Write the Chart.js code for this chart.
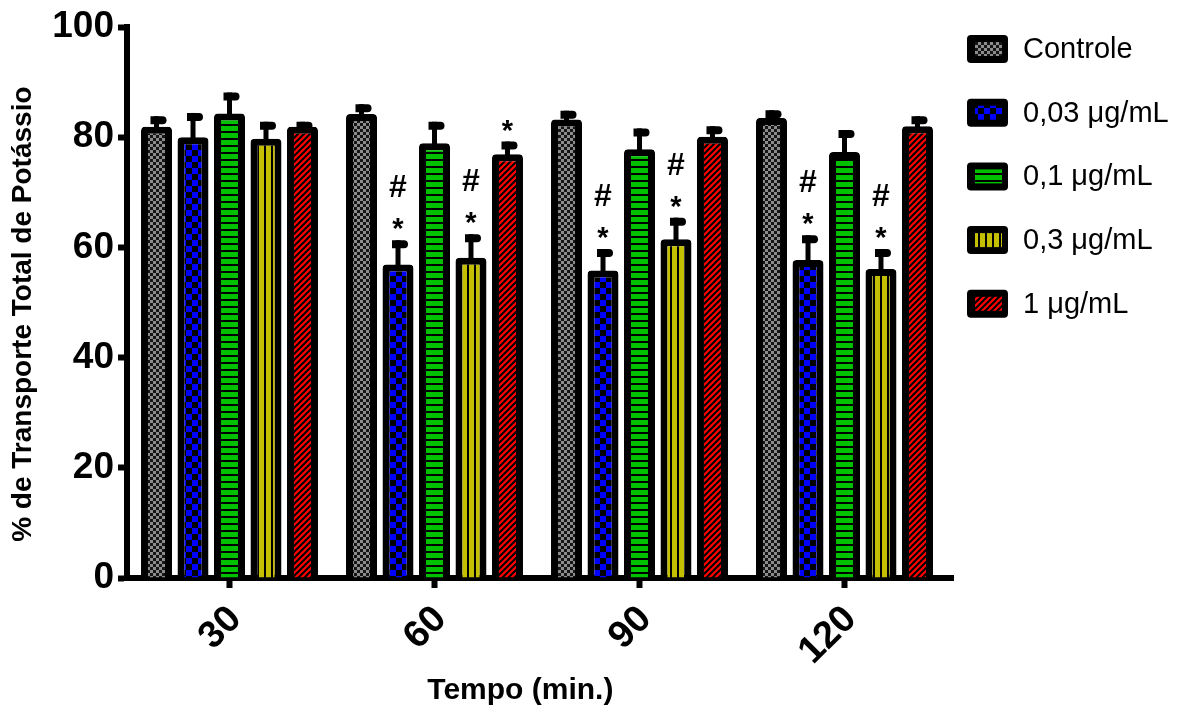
<!DOCTYPE html>
<html>
<head>
<meta charset="utf-8">
<script src="https://cdn.jsdelivr.net/npm/chart.js@4.4.1/dist/chart.umd.min.js"></script>
<style>
  html, body { margin: 0; padding: 0; background: #fff; }
  canvas { display: block; }
</style>
</head>
<body>
<canvas id="potassioChart" width="1184" height="711"></canvas>
<script>
// Tempo (min.)
const categories = ['30', '60', '90', '120'];
const seriesLabels = ['Controle', '0,03 \u03bcg/mL', '0,1 \u03bcg/mL', '0,3 \u03bcg/mL', '1 \u03bcg/mL'];

// % de transporte (media) por grupo
const controle = [81.9, 84.2, 83.2, 83.5];
const dose003 = [80.0, 56.9, 55.8, 57.7];
const dose01 = [84.3, 78.9, 77.8, 77.3];
const dose03 = [79.7, 58.1, 61.5, 56.1];
const dose1 = [81.9, 76.9, 80.1, 82.0];

// erro padrao (so para cima)
const controleErr = [1.9, 1.8, 1.6, 1.4];
const dose003Err = [4.4, 4.4, 3.9, 4.5];
const dose01Err = [3.8, 3.9, 3.8, 4.0];
const dose03Err = [3.1, 4.3, 3.9, 3.6];
const dose1Err = [0.9, 2.3, 1.9, 1.8];

// marcas de significancia (* e #), por serie e por tempo
const starMarks = [
  [false, false, false, false],
  [false, true, true, true],
  [false, false, false, false],
  [false, true, true, true],
  [false, true, false, false]
];
const hashMarks = [
  [false, false, false, false],
  [false, true, true, true],
  [false, false, false, false],
  [false, true, true, true],
  [false, false, false, false]
];

const yTicks = [0, 20, 40, 60, 80, 100];

const FONT = "'Liberation Sans', Arial, Helvetica, sans-serif";
const NB = '\u00a0';

// hatch patterns like the original figure
function makePattern(kind) {
  const c = document.createElement('canvas');
  const g = c.getContext('2d');
  if (kind === 'checkGray') {
    c.width = 6; c.height = 6;
    g.fillStyle = '#151515'; g.fillRect(0, 0, 6, 6);
    g.fillStyle = '#8c8c8c';
    g.fillRect(0, 0, 3, 3); g.fillRect(3, 3, 3, 3);
  } else if (kind === 'checkBlue') {
    c.width = 12; c.height = 12;
    g.fillStyle = '#000'; g.fillRect(0, 0, 12, 12);
    g.fillStyle = '#0000ff';
    g.fillRect(0, 0, 6, 6); g.fillRect(6, 6, 6, 6);
  } else if (kind === 'hStripes') {
    c.width = 4; c.height = 7;
    g.fillStyle = '#000'; g.fillRect(0, 0, 4, 7);
    g.fillStyle = '#00c000'; g.fillRect(0, 0, 4, 5);
  } else if (kind === 'vStripes') {
    c.width = 7; c.height = 4;
    g.fillStyle = '#000'; g.fillRect(0, 0, 7, 4);
    g.fillStyle = '#c4c000'; g.fillRect(0, 0, 5, 4);
  } else {
    c.width = 6; c.height = 6;
    g.fillStyle = '#ff0000'; g.fillRect(0, 0, 6, 6);
    g.strokeStyle = '#000'; g.lineWidth = 2;
    g.beginPath();
    g.moveTo(-1, 7); g.lineTo(7, -1);
    g.moveTo(-4, 4); g.lineTo(4, -4);
    g.moveTo(2, 10); g.lineTo(10, 2);
    g.stroke();
  }
  return g.createPattern(c, 'repeat');
}

const patterns = [
  makePattern('checkGray'),
  makePattern('checkBlue'),
  makePattern('hStripes'),
  makePattern('vStripes'),
  makePattern('diag')
];
const seriesValues = [controle, dose003, dose01, dose03, dose1];
const seriesErrors = [controleErr, dose003Err, dose01Err, dose03Err, dose1Err];

const errorBars = {
  id: 'errorBars',
  afterDatasetsDraw(chart) {
    const ctx = chart.ctx;
    const y = chart.scales.y;
    ctx.save();
    ctx.fillStyle = '#000';
    chart.data.datasets.forEach((ds, i) => {
      const meta = chart.getDatasetMeta(i);
      meta.data.forEach((bar, j) => {
        const top = y.getPixelForValue(seriesValues[i][j] + seriesErrors[i][j]);
        const x = bar.x;
        ctx.fillRect(x - 2.5, top, 5, bar.y - top + 4);
        // cap, rounded on the right end
        ctx.beginPath();
        ctx.moveTo(x - 6, top);
        ctx.lineTo(x + 6, top);
        ctx.arc(x + 6, top + 4, 4, -Math.PI / 2, Math.PI / 2);
        ctx.lineTo(x - 6, top + 8);
        ctx.closePath();
        ctx.fill();
        // significance marks
        ctx.textAlign = 'center';
        ctx.textBaseline = 'alphabetic';
        if (starMarks[i][j]) {
          ctx.font = 'bold 29px ' + FONT;
          ctx.fillText('*', x, top - 19 + 17);
        }
        if (hashMarks[i][j]) {
          ctx.font = 'bold 32px ' + FONT;
          ctx.fillText('#', x, top - 54 + 11);
        }
      });
    });
    ctx.restore();
  }
};

const sideLegend = {
  id: 'sideLegend',
  afterDraw(chart) {
    const ctx = chart.ctx;
    ctx.save();
    chart.data.datasets.forEach((ds, i) => {
      const bx = 967, by = 35 + i * 63.7;
      ctx.fillStyle = '#000';
      ctx.beginPath();
      ctx.roundRect(bx, by, 41, 28, 4);
      ctx.fill();
      ctx.fillStyle = ds.backgroundColor;
      ctx.fillRect(bx + 8, by + 7, 27, 14);
      ctx.fillStyle = '#000';
      ctx.font = '29px ' + FONT;
      ctx.textAlign = 'left';
      ctx.textBaseline = 'middle';
      ctx.fillText(ds.label, 1023, by + 15);
    });
    // x axis line runs a little past the last group in the original
    const a = chart.chartArea;
    ctx.fillStyle = '#000';
    ctx.fillRect(a.right - 2, a.bottom - 3, 9, 6);
    ctx.restore();
  }
};

new Chart(document.getElementById('potassioChart'), {
  type: 'bar',
  data: {
    labels: categories,
    datasets: seriesLabels.map((label, i) => ({
      label: label,
      data: seriesValues[i],
      backgroundColor: patterns[i],
      borderColor: '#000',
      borderWidth: 7,
      borderRadius: 4,
      barPercentage: 0.85,
      categoryPercentage: 0.89
    }))
  },
  options: {
    responsive: false,
    animation: false,
    devicePixelRatio: 1,
    layout: { padding: { top: 27, right: 237, bottom: 0, left: 0 } },
    plugins: {
      legend: { display: false },
      tooltip: { enabled: false }
    },
    scales: {
      x: {
        offset: true,
        grid: {
          offset: false,
          drawOnChartArea: false,
          drawTicks: true,
          tickLength: 10,
          tickWidth: 6,
          tickColor: '#000'
        },
        border: { display: true, width: 6, color: '#000' },
        ticks: {
          color: '#000',
          font: { family: FONT, size: 38, weight: 'bold' },
          minRotation: 45,
          maxRotation: 45,
          padding: 9,
          labelOffset: 6
        },
        title: {
          display: true,
          text: 'Tempo (min.)' + NB.repeat(4),
          color: '#000',
          font: { family: FONT, size: 30, weight: 'bold' },
          padding: { top: 0, bottom: 2 }
        },
        afterFit(scale) { scale.height = 133; }
      },
      y: {
        min: 0,
        max: 100,
        afterBuildTicks(scale) { scale.ticks = yTicks.map(v => ({ value: v })); },
        grid: {
          drawOnChartArea: false,
          drawTicks: true,
          tickLength: 9,
          tickWidth: 6,
          tickColor: '#000'
        },
        border: { display: true, width: 6, color: '#000' },
        ticks: {
          color: '#000',
          font: { family: FONT, size: 37, weight: 'bold' },
          padding: 4
        },
        title: {
          display: true,
          text: '% de Transporte Total de Potássio' + NB.repeat(3),
          color: '#000',
          font: { family: FONT, size: 28, weight: 'bold' },
          padding: { top: 6, bottom: 0 }
        },
        afterFit(scale) { scale.width = 127; }
      }
    }
  },
  plugins: [errorBars, sideLegend]
});
</script>
</body>
</html>
